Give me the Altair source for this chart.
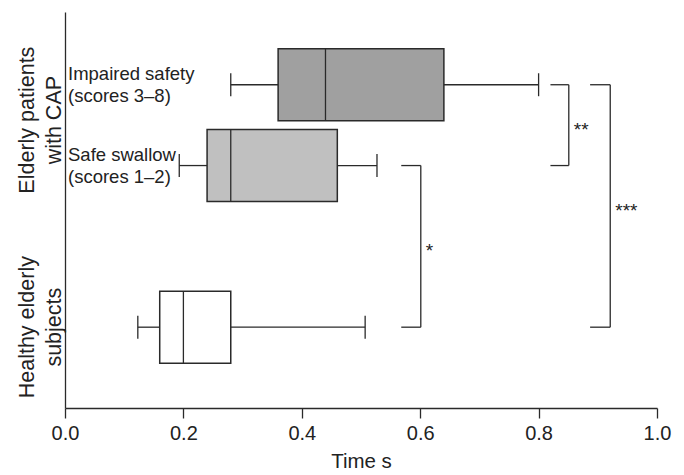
import altair as alt
import pandas as pd

# ---- data ----
groups = ["Impaired safety", "Safe swallow", "Healthy elderly"]
group_labels = ["Impaired safety\n(scores 3–8)", "Safe swallow\n(scores 1–2)", ""]
whisker_low = [0.28, 0.193, 0.123]
q1 = [0.36, 0.24, 0.16]
median = [0.44, 0.28, 0.20]
q3 = [0.64, 0.46, 0.28]
whisker_high = [0.80, 0.527, 0.507]
fills = ["#a0a0a0", "#c0c0c0", "#ffffff"]

side_titles = ["Elderly patients\nwith CAP", "Healthy elderly\nsubjects"]
side_title_groups = [["Impaired safety", "Safe swallow"], ["Healthy elderly"]]

cmp_from = ["Impaired safety", "Safe swallow", "Impaired safety"]
cmp_to = ["Safe swallow", "Healthy elderly", "Healthy elderly"]
cmp_x0 = [0.82, 0.568, 0.887]
cmp_x1 = [0.851, 0.601, 0.921]
cmp_stars = ["**", "*", "***"]

x_ticks = [0.0, 0.2, 0.4, 0.6, 0.8, 1.0]

# ---- layout (row slots on the vertical axis) ----
row_pos = {"Impaired safety": 4, "Safe swallow": 3, "Healthy elderly": 1}
HALF_BOX = 0.445
HALF_CAP = 0.142
FONT = "Liberation Sans"
DARK = "#2a2a2a"

boxes = pd.DataFrame({
    "group": groups, "label": group_labels,
    "wlo": whisker_low, "q1": q1, "med": median, "q3": q3, "whi": whisker_high,
    "fill": fills,
})
boxes["pos"] = boxes["group"].map(row_pos)
boxes["lo"] = boxes["pos"] - HALF_BOX
boxes["hi"] = boxes["pos"] + HALF_BOX
boxes["clo"] = boxes["pos"] - HALF_CAP
boxes["chi"] = boxes["pos"] + HALF_CAP

titles = pd.DataFrame({
    "text": side_titles,
    "pos": [sum(row_pos[g] for g in gs) / len(gs) for gs in side_title_groups],
})

cmp = pd.DataFrame({"a": cmp_from, "b": cmp_to, "x0": cmp_x0, "x1": cmp_x1, "stars": cmp_stars})
cmp["ya"] = cmp["a"].map(row_pos)
cmp["yb"] = cmp["b"].map(row_pos)
cmp["ym"] = (cmp["ya"] + cmp["yb"]) / 2


def X(field):
    return alt.X(
        f"{field}:Q",
        scale=alt.Scale(domain=[0, 1], nice=False, zero=False),
        axis=alt.Axis(
            values=x_ticks, format=".1f", title="Time s", grid=False,
            tickSize=10, tickColor=DARK, tickWidth=1.3,
            domainColor=DARK, domainWidth=1.3, labelFlush=False,
            labelFontSize=20, labelColor="#222", labelFont=FONT, labelPadding=5,
            titleFontSize=20.5, titleFont=FONT, titleFontWeight="normal",
            titleColor="#222", titlePadding=8,
        ),
    )


def Y(field):
    return alt.Y(
        f"{field}:Q",
        scale=alt.Scale(domain=[0, 4.9], nice=False, zero=False),
        axis=alt.Axis(labels=False, ticks=False, title=None, grid=False,
                      domainColor=DARK, domainWidth=1.3),
    )


base = alt.Chart(boxes)
line_kw = dict(color=DARK, strokeWidth=1.3)

whisk_lo = base.mark_rule(**line_kw).encode(x=X("wlo"), x2="q1", y=Y("pos"))
whisk_hi = base.mark_rule(**line_kw).encode(x=X("q3"), x2="whi", y=Y("pos"))
cap_lo = base.mark_rule(**line_kw).encode(x=X("wlo"), y=Y("clo"), y2="chi")
cap_hi = base.mark_rule(**line_kw).encode(x=X("whi"), y=Y("clo"), y2="chi")
box = base.mark_bar(stroke=DARK, strokeWidth=1.5).encode(
    x=X("q1"), x2="q3", y=Y("lo"), y2="hi",
    fill=alt.Fill("fill:N", scale=None),
)
med = base.mark_rule(**line_kw).encode(x=X("med"), y=Y("lo"), y2="hi")
labels = base.mark_text(
    align="left", baseline="middle", lineBreak="\n", fontSize=18.5,
    lineHeight=22, font=FONT, color="#222", dy=-11,
).encode(x=alt.value(3), y=Y("pos"), text="label:N")

side_kw = dict(angle=270, align="center", baseline="middle", lineBreak="\n",
               fontSize=21.5, lineHeight=27, font=FONT, color="#222")
side_cap = alt.Chart(titles.iloc[[0]]).mark_text(dx=5, **side_kw).encode(
    x=alt.value(-37.5), y=Y("pos"), text="text:N")
side_healthy = alt.Chart(titles.iloc[[1]]).mark_text(**side_kw).encode(
    x=alt.value(-37.5), y=Y("pos"), text="text:N")

cb = alt.Chart(cmp)
br_top = cb.mark_rule(**line_kw).encode(x=X("x0"), x2="x1", y=Y("ya"))
br_bot = cb.mark_rule(**line_kw).encode(x=X("x0"), x2="x1", y=Y("yb"))
br_vert = cb.mark_rule(**line_kw).encode(x=X("x1"), y=Y("ya"), y2="yb")
stars = cb.mark_text(
    align="left", baseline="middle", fontSize=19, font=FONT, color="#222", dx=5, dy=5,
).encode(x=X("x1"), y=Y("ym"), text="stars:N")

chart = alt.layer(
    whisk_lo, whisk_hi, cap_lo, cap_hi, box, med, labels, side_cap, side_healthy,
    br_top, br_bot, br_vert, stars,
).properties(
    width=592, height=396,
    autosize=alt.AutoSizeParams(type="none"),
    padding={"left": 57, "top": 4, "right": 19, "bottom": 66},
).configure_view(stroke=None)

chart.save("out.html", embed_options={"renderer": "svg", "actions": False})
